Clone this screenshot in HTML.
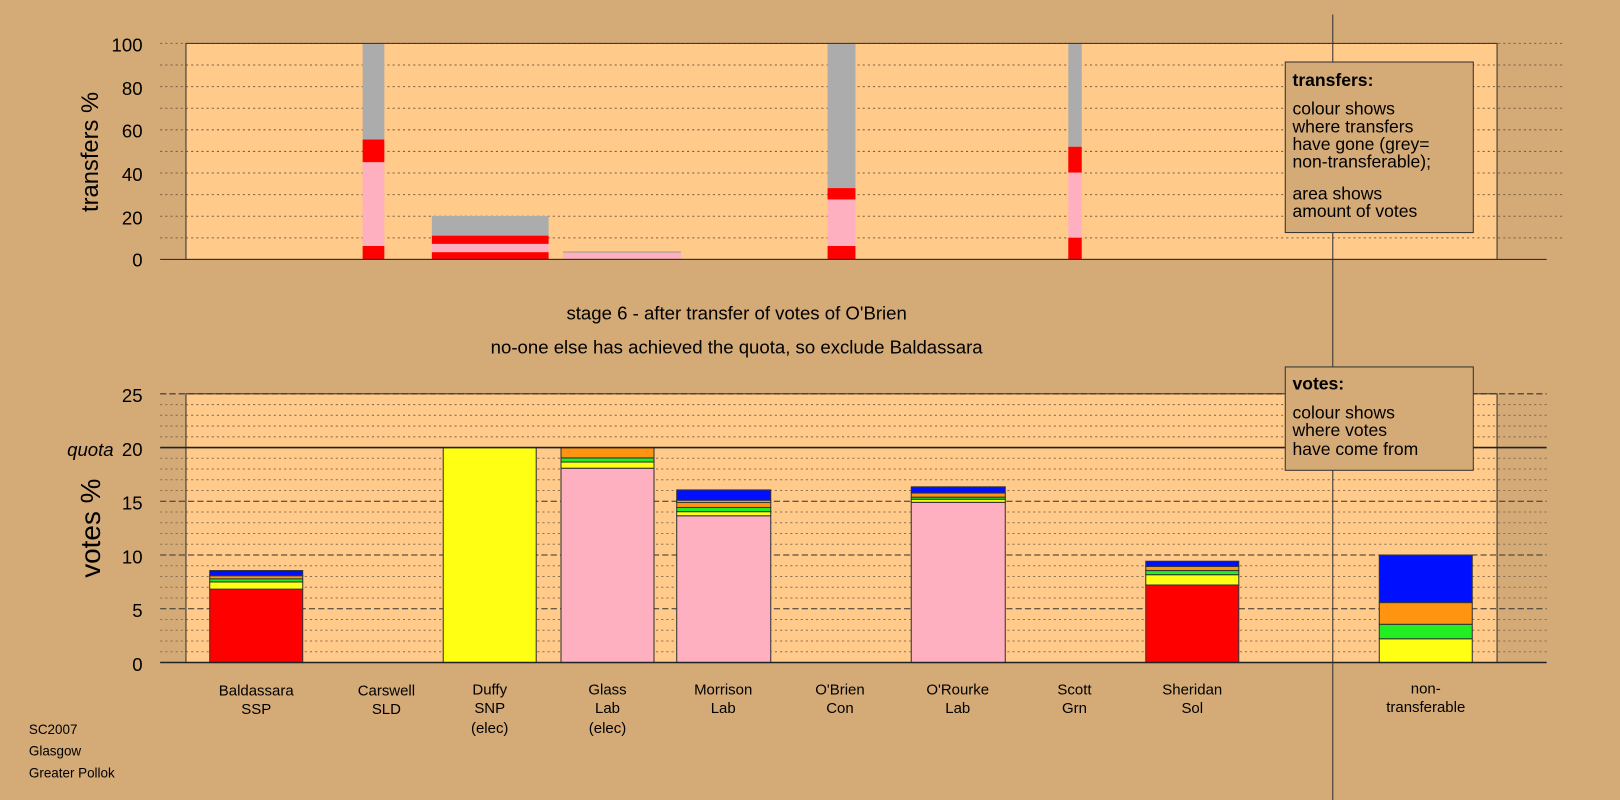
<!DOCTYPE html>
<html><head><meta charset="utf-8"><style>
html,body{margin:0;padding:0;background:#d4aa77;overflow:hidden;}
svg{display:block;font-family:"Liberation Sans",Arial,sans-serif;}
</style></head><body>
<svg id="s" width="1620" height="800" viewBox="0 0 1568 774" preserveAspectRatio="none" xmlns="http://www.w3.org/2000/svg">
<rect width="1568" height="774" fill="#d4aa77"/>
<rect x="180" y="42" width="1269" height="209" fill="#ffca8a"/>
<rect x="180" y="381" width="1269" height="260" fill="#ffca8a"/>
<g id="grid"></g>
<g stroke="none">
<rect x="351" y="42" width="21" height="93" fill="#acacac"/>
<rect x="351" y="135" width="21" height="22" fill="#ff0000"/>
<rect x="351" y="157" width="21" height="81" fill="#ffb0c0"/>
<rect x="351" y="238" width="21" height="13" fill="#ff0000"/>
<rect x="418" y="209" width="113" height="19" fill="#acacac"/>
<rect x="418" y="228" width="113" height="8" fill="#ff0000"/>
<rect x="418" y="236" width="113" height="8" fill="#ffb0c0"/>
<rect x="418" y="244" width="113" height="7" fill="#ff0000"/>
<rect x="545" y="243" width="114" height="2" fill="#c8a8a0"/>
<rect x="545" y="245" width="114" height="6" fill="#ffb0c0"/>
<rect x="801" y="42" width="27" height="140" fill="#acacac"/>
<rect x="801" y="182" width="27" height="11" fill="#ff0000"/>
<rect x="801" y="193" width="27" height="45" fill="#ffb0c0"/>
<rect x="801" y="238" width="27" height="13" fill="#ff0000"/>
<rect x="1034" y="42" width="13" height="100" fill="#acacac"/>
<rect x="1034" y="142" width="13" height="25" fill="#ff0000"/>
<rect x="1034" y="167" width="13" height="63" fill="#ffb0c0"/>
<rect x="1034" y="230" width="13" height="21" fill="#ff0000"/>
</g>
<rect x="180" y="42" width="1269" height="209" fill="none" stroke="#333" stroke-width="1"/>
<line x1="155" y1="251" x2="1497" y2="251" stroke="#333"/>
<g stroke="#333" stroke-width="1">
<rect x="203" y="570" width="90" height="71" fill="#ff0000"/>
<rect x="203" y="563" width="90" height="7" fill="#ffff14"/>
<rect x="203" y="560" width="90" height="3" fill="#22ee22"/>
<rect x="203" y="557" width="90" height="3" fill="#ff9410"/>
<rect x="203" y="552" width="90" height="5" fill="#0010ff"/>
<rect x="429" y="433" width="90" height="208" fill="#ffff14"/>
<rect x="543" y="453" width="90" height="188" fill="#ffb0c0"/>
<rect x="543" y="447" width="90" height="6" fill="#ffff14"/>
<rect x="543" y="443" width="90" height="4" fill="#22ee22"/>
<rect x="543" y="433" width="90" height="10" fill="#ff9410"/>
<rect x="655" y="499" width="91" height="142" fill="#ffb0c0"/>
<rect x="655" y="495" width="91" height="4" fill="#ffff14"/>
<rect x="655" y="491" width="91" height="4" fill="#22ee22"/>
<rect x="655" y="486" width="91" height="5" fill="#ff9410"/>
<rect x="655" y="484" width="91" height="2" fill="#ffb0c0"/>
<rect x="655" y="474" width="91" height="10" fill="#0010ff"/>
<rect x="882" y="486" width="91" height="155" fill="#ffb0c0"/>
<rect x="882" y="483" width="91" height="3" fill="#ffff14"/>
<rect x="882" y="481" width="91" height="2" fill="#22ee22"/>
<rect x="882" y="477" width="91" height="4" fill="#ff9410"/>
<rect x="882" y="471" width="91" height="6" fill="#0010ff"/>
<rect x="1109" y="566" width="90" height="75" fill="#ff0000"/>
<rect x="1109" y="556" width="90" height="10" fill="#ffff14"/>
<rect x="1109" y="552" width="90" height="4" fill="#22ee22"/>
<rect x="1109" y="548" width="90" height="4" fill="#ff9410"/>
<rect x="1109" y="543" width="90" height="5" fill="#0010ff"/>
<rect x="1335" y="618" width="90" height="23" fill="#ffff14"/>
<rect x="1335" y="604" width="90" height="14" fill="#22ee22"/>
<rect x="1335" y="583" width="90" height="21" fill="#ff9410"/>
<rect x="1335" y="537" width="90" height="46" fill="#0010ff"/>
</g>
<rect x="180" y="381" width="1269" height="260" fill="none" stroke="#333" stroke-width="1"/>
<line x1="155" y1="433" x2="1497" y2="433" stroke="#222" stroke-width="1.5"/>
<line x1="155" y1="641" x2="1497" y2="641" stroke="#222" stroke-width="1.5"/>
<line x1="1290" y1="14" x2="1290" y2="775" stroke="#333"/>
<rect x="1244" y="60" width="182" height="165" fill="#d4aa77" stroke="#333"/>
<g font-size="17" fill="#000">
<text x="1251" y="83" font-weight="bold">transfers:</text>
<text x="1251" y="111">colour shows</text>
<text x="1251" y="128">where transfers</text>
<text x="1251" y="145">have gone (grey=</text>
<text x="1251" y="162">non-transferable);</text>
<text x="1251" y="193">area shows</text>
<text x="1251" y="210">amount of votes</text>
</g>
<rect x="1244" y="355" width="182" height="100" fill="#d4aa77" stroke="#333"/>
<g font-size="17" fill="#000">
<text x="1251" y="377" font-weight="bold">votes:</text>
<text x="1251" y="405">colour shows</text>
<text x="1251" y="422">where votes</text>
<text x="1251" y="440">have come from</text>
</g>
<g font-size="18" fill="#000" text-anchor="end">
<text x="138" y="50">100</text><text x="138" y="92">80</text><text x="138" y="133">60</text>
<text x="138" y="175">40</text><text x="138" y="217">20</text><text x="138" y="258">0</text>
<text x="138" y="389">25</text><text x="138" y="493">15</text><text x="138" y="545">10</text>
<text x="138" y="597">5</text><text x="138" y="649">0</text>
<text x="138" y="441">20</text>
<text x="110" y="441" font-style="italic">quota</text>
</g>
<text transform="translate(95,147) rotate(-90)" font-size="23" text-anchor="middle">transfers %</text>
<text transform="translate(97,511) rotate(-90)" font-size="27" text-anchor="middle">votes %</text>
<g font-size="18" text-anchor="middle">
<text x="713" y="309">stage 6 - after transfer of votes of O'Brien</text>
<text x="713" y="342">no-one else has achieved the quota, so exclude Baldassara</text>
</g>
<g font-size="14.5" text-anchor="middle">
<text x="248" y="673">Baldassara</text><text x="248" y="691">SSP</text>
<text x="374" y="673">Carswell</text><text x="374" y="691">SLD</text>
<text x="474" y="672">Duffy</text><text x="474" y="690">SNP</text><text x="474" y="709">(elec)</text>
<text x="588" y="672">Glass</text><text x="588" y="690">Lab</text><text x="588" y="709">(elec)</text>
<text x="700" y="672">Morrison</text><text x="700" y="690">Lab</text>
<text x="813" y="672">O'Brien</text><text x="813" y="690">Con</text>
<text x="927" y="672">O'Rourke</text><text x="927" y="690">Lab</text>
<text x="1040" y="672">Scott</text><text x="1040" y="690">Grn</text>
<text x="1154" y="672">Sheridan</text><text x="1154" y="690">Sol</text>
<text x="1380" y="671">non-</text><text x="1380" y="689">transferable</text>
</g>
<g font-size="13">
<text x="28" y="710">SC2007</text><text x="28" y="731">Glasgow</text><text x="28" y="752">Greater Pollok</text>
</g>
</svg>
<script>
var g=document.getElementById('grid'),ns='http://www.w3.org/2000/svg';
function L(x1,y,x2,dash,col){var l=document.createElementNS(ns,'line');l.setAttribute('x1',x1);l.setAttribute('x2',x2);l.setAttribute('y1',y);l.setAttribute('y2',y);l.setAttribute('stroke',col);l.setAttribute('stroke-dasharray',dash);g.appendChild(l);}
for(var i=1;i<=10;i++){L(155,251-i*20.9,1512,'2,3','#7a6040');}
for(var v=1;v<=25;v++){var y=641-v*10.4;if(v%5==0){if(v!=20)L(155,y,1497,'6,3','#333');}else L(155,y,1497,'2,3','#8a7050');}
</script>
</body></html>
